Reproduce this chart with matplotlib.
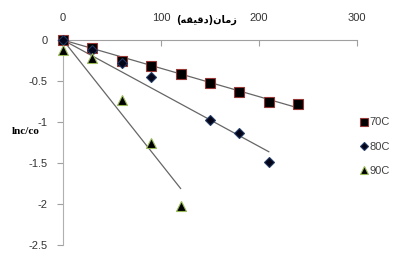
import matplotlib.pyplot as plt
import numpy as np

# data
t_70 = np.array([0, 30, 60, 90, 120, 150, 180, 210, 240])
y_70 = np.array([0, -0.1, -0.26, -0.32, -0.42, -0.52, -0.63, -0.75, -0.78])
t_80 = np.array([0, 30, 60, 90, 150, 180, 210])
y_80 = np.array([0, -0.12, -0.28, -0.45, -0.98, -1.13, -1.49])
t_90 = np.array([0, 30, 60, 90, 120])
y_90 = np.array([-0.12, -0.22, -0.73, -1.26, -2.03])
labels = ['70C', '80C', '90C']
x_ticks = [0, 100, 200, 300]
y_ticks = [0, -0.5, -1, -1.5, -2, -2.5]

# "زمان(دقیقه)" as shaped glyphs in visual order
x_title = '(\uFEEA\uFED8\uFEF4\uFED7\uFEA9)\uFEE5\uFE8E\uFEE3\uFEAF'
y_title = 'lnc/co'

fig = plt.figure(figsize=(3.98, 2.56), dpi=100)
ax = fig.add_axes([63/398, 11/256, 294/398, 205/256])

styles = [
    dict(marker='s', ms=7, mfc='black', mec='#953735'),
    dict(marker='D', ms=5, mfc='#05051a', mec='#1f3864'),
    dict(marker='^', ms=7, mfc='black', mec='#9bbb59'),
]
series = [(t_70, y_70), (t_80, y_80), (t_90, y_90)]

for (t, y), st, lab in zip(series, styles, labels):
    # trendline forced through origin
    k = np.sum(t * y) / np.sum(t * t)
    tt = np.array([t.min(), t.max()])
    ax.plot(tt, k * tt, color='#666666', lw=0.9, zorder=3, clip_on=False)
    ax.plot(t, y, ls='none', label=lab, zorder=4, clip_on=False, mew=0.8, **st)

ax.set_xlim(0, 300)
ax.set_ylim(-2.5, 0)
ax.xaxis.tick_top()
ax.set_xticks(x_ticks)
ax.set_yticks(y_ticks)
ax.set_yticklabels(['0', '-0.5', '-1', '-1.5', '-2', '-2.5'])
ax.tick_params(axis='x', direction='in', length=4, color='#a0a0a0',
               labelsize=8, labelcolor='#333333', pad=12)
ax.tick_params(axis='y', direction='out', length=4, color='#a0a0a0',
               labelsize=8, labelcolor='#333333', pad=7)
for lab in ax.get_xticklabels() + ax.get_yticklabels():
    lab.set_family('Liberation Sans')

ax.spines['right'].set_visible(False)
ax.spines['bottom'].set_visible(False)
ax.spines['top'].set_color('#a0a0a0')
ax.spines['top'].set_linewidth(0.8)
ax.spines['left'].set_color('#b0b0b0')
ax.spines['left'].set_linewidth(0.8)
ax.spines['left'].set_linestyle((0, (1, 1)))

fig.text(207/398, 1 - 20/256, x_title, family='DejaVu Sans', weight='bold',
         fontsize=7, ha='center', va='center')
fig.text(26/398, 1 - 132/256, y_title, family='Liberation Serif', weight='bold',
         fontsize=8, ha='center', va='center')

leg = fig.legend(loc='upper left', bbox_to_anchor=(356/398, 1 - 113/256),
                 frameon=False, handlelength=0.6, handletextpad=0.2,
                 labelspacing=1.3, borderaxespad=0, markerscale=0.75,
                 prop={'family': 'Liberation Sans', 'size': 8})
for txt in leg.get_texts():
    txt.set_color('#404040')

fig.savefig('out.png', dpi=100)
